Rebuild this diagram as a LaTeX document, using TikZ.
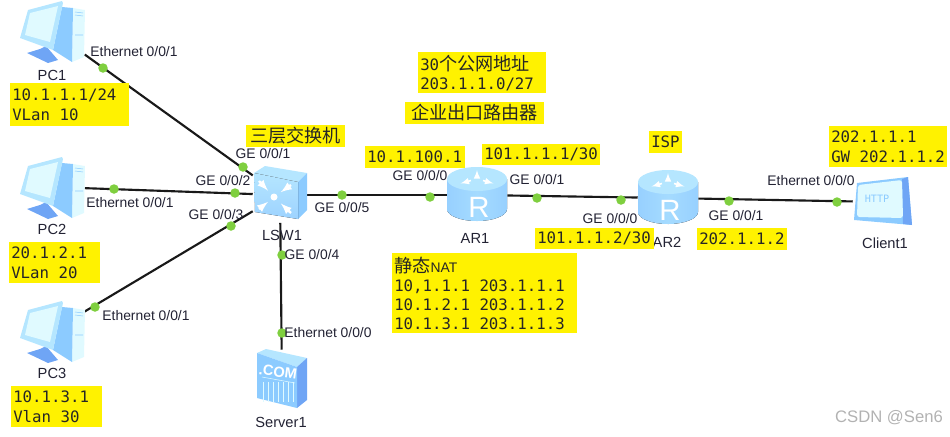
\documentclass[tikz,border=0pt]{standalone}
\usepackage{fontspec}
\setmainfont{Liberation Sans}
\newfontfamily\monofont{DejaVu Sans Mono}
\newfontfamily\cjk{Noto Sans CJK SC}
\usetikzlibrary{positioning}
\usetikzlibrary{calc}

\definecolor{portgreen}{HTML}{7FCF3F}
\definecolor{iconpale}{HTML}{E0FAFF}
\definecolor{iconlight}{HTML}{B5E6FF}
\definecolor{iconmid}{HTML}{8CCBFF}
\definecolor{icondark}{HTML}{6FA5F5}
\definecolor{labelgray}{HTML}{222233}

\def\unitpx{0.75pt}

\tikzset{
    % PC, drawn around the centre of its node
    pcicon/.pic={
        \begin{scope}[shift={(-52,-31)}]
        \fill[icondark] (27,53) -- (40,49) -- (46,46) -- (58,60) -- (48,63) -- cycle;
        \fill[iconpale] (73,8) -- (85,10) -- (84,57) -- (72,62) -- cycle;
        \fill[iconmid] (62,7) -- (73,8) -- (72,62) -- (53,50) -- cycle;
        \fill[iconlight] (28,10) -- (62,1) -- (63,3) -- (53,50) -- (20,38) -- cycle;
        \fill[iconpale] (30,13) -- (58,6) -- (50,42) -- (25,35) -- cycle;
        \draw[iconmid] (75,12) -- (83,13) (75,15) -- (83,16) (75,35) -- (83,35);
        \end{scope}
    },
    % layer 3 switch
    switchicon/.pic={
        \begin{scope}[shift={(-280,-195)}]
        \fill[iconlight] (254,173) -- (265,166) -- (307,173) -- (298,182) -- cycle;
        \fill[iconmid] (298,182) -- (307,173) -- (307,210) -- (298,219) -- cycle;
        \fill[top color=iconlight, bottom color=iconmid!85!white] (254,173) -- (298,182) -- (298,219) -- (255,212) -- cycle;
        \fill[white] (274,197) circle (3.5);
        \foreach \ax/\ay in {259/181,291/185,259/209,291/213}
            \draw[white, line width=1.8pt, ->, >=latex] (\ax,\ay) -- ($(\ax,\ay)!0.6!(274,197)$);
        \end{scope}
    },
    % router cylinder
    routericon/.pic={
        \fill[left color=iconmid!90!white, right color=iconmid!90!white, middle color=iconlight!60!iconmid]
            (-30,-16) -- (-30,14) arc[start angle=180, end angle=0, x radius=30, y radius=12]
            -- (30,-16) -- cycle;
        \fill[iconlight] (0,-16) ellipse[x radius=30, y radius=12];
        \foreach \ang in {30,150,270}
            \draw[white, line width=1.2pt, ->, >=latex] (0,-16) ++(\ang:7 and 3) -- ++(\ang:12 and 6);
        \node[white, font=\fontsize{22}{22}\selectfont, inner sep=0pt] (-letter) at (2,12) {R};
    },
    % server box
    servericon/.pic={
        \begin{scope}[shift={(-282,-380)}]
        \fill[iconlight] (257,353) -- (266,349) -- (307,358) -- (297,367) -- cycle;
        \fill[icondark] (297,367) -- (307,358) -- (307,400) -- (297,408) -- cycle;
        \fill[iconmid] (257,353) -- (297,367) -- (297,408) -- (257,398) -- cycle;
        \foreach \gx in {263,268,...,293}
            \draw[iconpale] (\gx,382) -- (\gx,402);
        \draw[iconpale] (262,377) -- (295,383);
        \end{scope}
    },
    % client screen
    clienticon/.pic={
        \begin{scope}[shift={(-883,-202)}]
        \fill[iconmid] (857,183) -- (908,177) -- (912,225) -- (854,220) -- cycle;
        \fill[icondark] (902,179) -- (908,177) -- (912,225) -- (903,224) -- cycle;
        \fill[iconpale, rounded corners=2pt] (858,185) -- (902,180) -- (903,218) -- (857,217) -- cycle;
        \end{scope}
    }
}

\begin{document}
\begin{tikzpicture}[
    x=\unitpx, y=-\unitpx,
    % Invisible box that the links stop at
    device/.style 2 args={minimum width=#1*\unitpx, minimum height=#2*\unitpx, inner sep=0pt},
    link/.style={line width=1.6pt, draw=black!90},
    portdot/.style={circle, fill=portgreen, minimum size=9.5*\unitpx, inner sep=0pt},
    portlabel/.style={font=\fontsize{10.4}{12}\selectfont, text=labelgray, inner sep=0pt},
    devlabel/.style={font=\fontsize{11}{13}\selectfont, text=labelgray, inner sep=0pt},
    note/.style 2 args={anchor=north west, fill=yellow, inner ysep=0pt, inner xsep=2*\unitpx,
        text width=(#1-4)*\unitpx, minimum height=#2*\unitpx, align=left, text=black!85,
        font=\monofont\fontsize{11.8}{14.3}\selectfont,
        execute at begin node={\spaceskip=0.602em\relax}},
    bigcjk/.style={font=\cjk\fontsize{13.6}{16}\selectfont, fill=yellow, inner sep=0pt, text=black!85}
]

\useasboundingbox (0,0) rectangle (950,436);

% Devices
\node[device={65}{62}] (PC1) at (52,31) {};
\node[device={65}{62}] (PC2) at (52,187) {};
\node[device={65}{62}] (PC3) at (52,331) {};
\node[device={54}{55}] (LSW1) at (280,195) {};
\node[device={60}{55}] (AR1) at (477,195) {};
\node[device={60}{55}] (AR2) at (668,198) {};
\node[device={50}{60}] (Server1) at (282,380) {};
\node[device={60}{50}] (Client1) at (883,202) {};

% Links
\draw[link] (PC1) -- (LSW1);
\draw[link] (PC2) -- (LSW1);
\draw[link] (PC3) -- (LSW1);
\draw[link] (LSW1) -- (Server1);
\draw[link] (LSW1) -- (AR1);
\draw[link] (AR1) -- (AR2);
\draw[link] (AR2) -- (Client1);

% Port dots
\foreach \dotname/\dotx/\doty in {
    dotA/103/68, dotB/243/167, dotC/114/189, dotD/235/193,
    dotE/95/307, dotF/231/226, dotG/282/255, dotH/282/333,
    dotI/342/195, dotJ/430/197, dotK/537/198, dotL/621/200,
    dotM/729/201, dotN/837/202}
    \node[portdot] (\dotname) at (\dotx,\doty) {};

% Icons on top of the links
\pic at (PC1) {pcicon};
\pic at (PC2) {pcicon};
\pic at (PC3) {pcicon};
\pic at (LSW1) {switchicon};
\pic (iconAR1) at (AR1) {routericon};
\pic (iconAR2) at (AR2) {routericon};
\pic at (Server1) {servericon};
\pic at (Client1) {clienticon};
\node[white, font=\bfseries\fontsize{11}{11}\selectfont, rotate=-8, inner sep=0pt] (comText) at (278,372) {.COM};
\node[iconmid, font=\monofont\fontsize{7.6}{8}\selectfont, inner sep=0pt] (httpText) at (877,199) {HTTP};

% Device names
\node[devlabel] (namePC1) at (52,75) {PC1};
\node[devlabel] (namePC2) at (52,229) {PC2};
\node[devlabel] (namePC3) at (52,373) {PC3};
\node[devlabel] (nameLSW1) at (282,235) {LSW1};
\node[devlabel] (nameAR1) at (475,238) {AR1};
\node[devlabel] (nameAR2) at (667,242) {AR2};
\node[devlabel] (nameServer1) at (281,422) {Server1};
\node[devlabel] (nameClient1) at (885,243) {Client1};

% Port labels
\node[portlabel] (portA) at (134,52) {Ethernet 0/0/1};
\node[portlabel] (portB) at (263,154) {GE 0/0/1};
\node[portlabel] (portC) at (223,181) {GE 0/0/2};
\node[portlabel] (portD) at (216,215) {GE 0/0/3};
\node[portlabel] (portE) at (130,203) {Ethernet 0/0/1};
\node[portlabel] (portF) at (342,208) {GE 0/0/5};
\node[portlabel] (portG) at (146,316) {Ethernet 0/0/1};
\node[portlabel] (portH) at (312,255) {GE 0/0/4};
\node[portlabel] (portI) at (328,333) {Ethernet 0/0/0};
\node[portlabel] (portJ) at (420,176) {GE 0/0/0};
\node[portlabel] (portK) at (537,180) {GE 0/0/1};
\node[portlabel] (portL) at (610,219) {GE 0/0/0};
\node[portlabel] (portM) at (736,216) {GE 0/0/1};
\node[portlabel] (portN) at (811,181) {Ethernet 0/0/0};

% Yellow notes
\node[note={119}{43}] (notePC1) at (10,83) {10.1.1.1/24\\VLan 10};
\node[note={91}{41}] (notePC2) at (9,242) {20.1.2.1\\VLan 20};
\node[note={91}{41}] (notePC3) at (11,386) {10.1.3.1\\Vlan 30};
\node[note={128}{41}] (notePool) at (418,52) {30{\cjk\fontsize{13.6}{14.3}\selectfont 个公网地址}\\203.1.1.0/27};
\node[note={100}{22}] (noteGwIn) at (365,146) {10.1.100.1};
\node[note={118}{21}] (noteWanA) at (482,144) {101.1.1.1/30};
\node[note={119}{21}] (noteWanB) at (535,228) {101.1.1.2/30};
\node[note={33}{22}] (noteISP) at (649,131) {ISP};
\node[note={90}{22}] (noteWanC) at (697,228) {202.1.1.2};
\node[note={118}{41}] (noteClient) at (829,126) {202.1.1.1\\GW 202.1.1.2};
\node[note={185}{80}] (noteNAT) at (392,253) {{\cjk\fontsize{13.6}{14.3}\selectfont 静态}{\rmfamily\fontsize{10.4}{14.3}\selectfont NAT}\\10,1.1.1 203.1.1.1\\10.1.2.1 203.1.1.2\\10.1.3.1 203.1.1.3};
\node[bigcjk, minimum width=99*\unitpx, minimum height=22*\unitpx] (noteL3) at (295.5,136) {三层交换机};
\node[bigcjk, minimum width=139*\unitpx, minimum height=22*\unitpx] (noteEdge) at (474.5,113) {企业出口路由器};

% Watermark
\node[text=black!30, font=\fontsize{12.5}{14}\selectfont, inner sep=0pt] (markText) at (889,418) {CSDN @Sen6};

\end{tikzpicture}
\end{document}
